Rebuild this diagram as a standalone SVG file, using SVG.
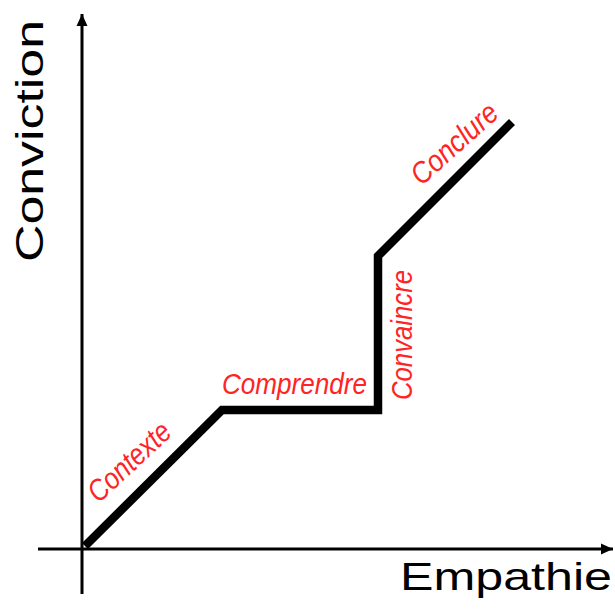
<svg xmlns="http://www.w3.org/2000/svg" width="615" height="614" viewBox="0 0 615 614">
  <style>
    .axis { stroke: #000; stroke-width: 3; fill: none; }
    .curve { stroke: #000; stroke-width: 8.5; fill: none; stroke-linejoin: miter; stroke-linecap: butt; }
    .axlabel { font-family: "Liberation Sans", "DejaVu Sans", sans-serif; font-size: 39px; fill: #000; text-anchor: middle; }
    .step { font-family: "Liberation Sans", "DejaVu Sans", sans-serif; font-style: italic; font-size: 30px; fill: #ff2424; text-anchor: middle; }
  </style>
  <defs>
    <marker id="arrow" markerWidth="14" markerHeight="14" refX="12" refY="7" orient="auto" markerUnits="userSpaceOnUse">
      <path d="M0,1.5 L12,7 L0,12.5 Z" fill="#000"/>
    </marker>
  </defs>
  <rect width="615" height="614" fill="#fff"/>
  <g id="connectors">
    <line id="y-axis" class="axis" x1="82" y1="594" x2="82" y2="14" marker-end="url(#arrow)"/>
    <line id="x-axis" class="axis" x1="38" y1="549" x2="613" y2="549" marker-end="url(#arrow)"/>
    <polyline id="path" class="curve" points="85,546 222,410 378,410 378,256 512,122"/>
  </g>
  <g id="label-conviction">
    <text class="axlabel" transform="translate(43,141) rotate(-90)" textLength="242" lengthAdjust="spacingAndGlyphs">Conviction</text>
  </g>
  <g id="label-empathie">
    <text class="axlabel" x="506" y="590" font-size="37" textLength="212" lengthAdjust="spacingAndGlyphs">Empathie</text>
  </g>
  <g id="step-contexte">
    <text class="step" transform="translate(136,469) rotate(-43)" textLength="102" lengthAdjust="spacingAndGlyphs">Contexte</text>
  </g>
  <g id="step-comprendre">
    <text class="step" x="294.5" y="394" textLength="145" lengthAdjust="spacingAndGlyphs">Comprendre</text>
  </g>
  <g id="step-convaincre">
    <text class="step" transform="translate(412,335) rotate(-90)" textLength="130" lengthAdjust="spacingAndGlyphs">Convaincre</text>
  </g>
  <g id="step-conclure">
    <text class="step" transform="translate(461,151) rotate(-42)" textLength="106" lengthAdjust="spacingAndGlyphs">Conclure</text>
  </g>
</svg>
